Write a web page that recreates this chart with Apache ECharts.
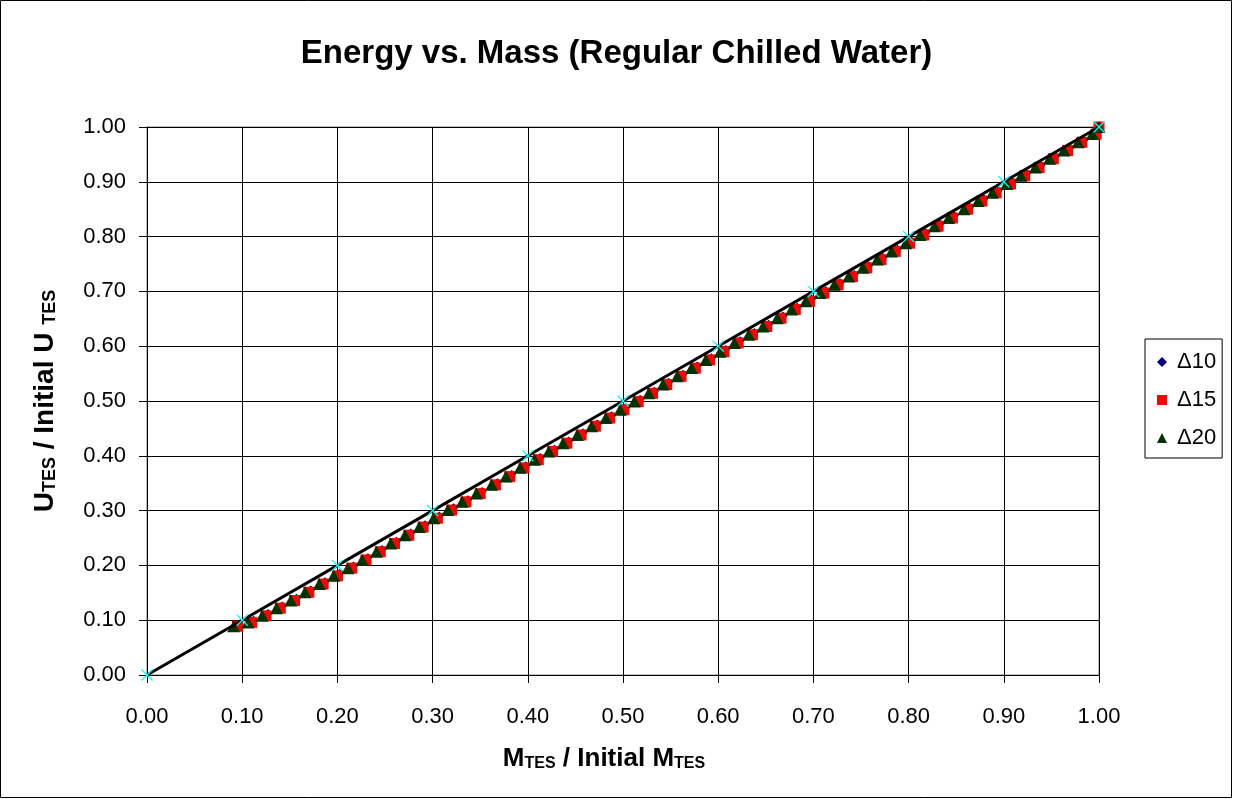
<!DOCTYPE html>
<html>
<head>
<meta charset="utf-8">
<title>Energy vs. Mass (Regular Chilled Water)</title>
<script src="https://cdn.jsdelivr.net/npm/echarts@6/dist/echarts.min.js"></script>
<style>
	html, body { margin: 0; padding: 0; background: #fff; }
	#mychart { width: 1233px; height: 799px; }
</style>
</head>
<body>
<div id="mychart"></div>
<script>
// values (fraction of initial mass / initial energy)
var mass10 = [0.097, 0.112, 0.127, 0.142, 0.157, 0.172, 0.187, 0.202, 0.217, 0.232, 0.247, 0.262, 0.277, 0.292, 0.307, 0.322, 0.337, 0.352, 0.368, 0.383, 0.398, 0.413, 0.428, 0.443, 0.458, 0.473, 0.488, 0.503, 0.518, 0.533, 0.548, 0.563, 0.578, 0.593, 0.608, 0.623, 0.638, 0.653, 0.668, 0.683, 0.698, 0.713, 0.728, 0.743, 0.758, 0.773, 0.788, 0.803, 0.818, 0.833, 0.848, 0.864, 0.879, 0.894, 0.909, 0.924, 0.939, 0.954, 0.969, 0.984, 0.999, 1.000];
var energy10 = [0.093, 0.100, 0.112, 0.126, 0.140, 0.155, 0.170, 0.185, 0.199, 0.214, 0.229, 0.244, 0.259, 0.274, 0.290, 0.305, 0.320, 0.335, 0.351, 0.366, 0.382, 0.397, 0.412, 0.427, 0.442, 0.458, 0.473, 0.488, 0.503, 0.518, 0.534, 0.549, 0.564, 0.579, 0.594, 0.610, 0.625, 0.640, 0.655, 0.671, 0.686, 0.701, 0.716, 0.731, 0.747, 0.762, 0.777, 0.792, 0.807, 0.823, 0.838, 0.854, 0.869, 0.884, 0.900, 0.915, 0.930, 0.946, 0.961, 0.976, 0.991, 1.000];

var mass15 = [0.095, 0.110, 0.125, 0.140, 0.155, 0.170, 0.185, 0.200, 0.215, 0.230, 0.245, 0.260, 0.275, 0.290, 0.305, 0.320, 0.335, 0.350, 0.366, 0.381, 0.396, 0.411, 0.426, 0.441, 0.456, 0.471, 0.486, 0.501, 0.516, 0.531, 0.546, 0.561, 0.576, 0.591, 0.606, 0.621, 0.636, 0.651, 0.666, 0.681, 0.696, 0.711, 0.726, 0.741, 0.756, 0.771, 0.786, 0.801, 0.816, 0.831, 0.846, 0.862, 0.877, 0.892, 0.907, 0.922, 0.937, 0.952, 0.967, 0.982, 0.997, 1.000];
var energy15 = [0.089, 0.096, 0.108, 0.122, 0.136, 0.151, 0.166, 0.181, 0.195, 0.210, 0.225, 0.240, 0.255, 0.270, 0.286, 0.301, 0.316, 0.331, 0.347, 0.362, 0.378, 0.393, 0.408, 0.423, 0.438, 0.454, 0.469, 0.484, 0.499, 0.514, 0.530, 0.545, 0.560, 0.575, 0.590, 0.606, 0.621, 0.636, 0.651, 0.667, 0.682, 0.697, 0.712, 0.727, 0.743, 0.758, 0.773, 0.788, 0.803, 0.819, 0.834, 0.850, 0.865, 0.880, 0.896, 0.911, 0.926, 0.942, 0.957, 0.972, 0.987, 1.000];

var mass20 = [0.091, 0.106, 0.121, 0.136, 0.151, 0.166, 0.181, 0.196, 0.211, 0.226, 0.241, 0.256, 0.271, 0.286, 0.301, 0.316, 0.331, 0.346, 0.362, 0.377, 0.392, 0.407, 0.422, 0.437, 0.452, 0.467, 0.482, 0.497, 0.512, 0.527, 0.542, 0.557, 0.572, 0.587, 0.602, 0.617, 0.632, 0.647, 0.662, 0.677, 0.692, 0.707, 0.722, 0.737, 0.752, 0.767, 0.782, 0.797, 0.812, 0.827, 0.842, 0.858, 0.873, 0.888, 0.903, 0.918, 0.933, 0.948, 0.963, 0.978, 0.993, 1.000];
var energy20 = [0.089, 0.096, 0.108, 0.122, 0.136, 0.151, 0.166, 0.181, 0.195, 0.210, 0.225, 0.240, 0.255, 0.270, 0.286, 0.301, 0.316, 0.331, 0.347, 0.362, 0.378, 0.393, 0.408, 0.423, 0.438, 0.454, 0.469, 0.484, 0.499, 0.514, 0.530, 0.545, 0.560, 0.575, 0.590, 0.606, 0.621, 0.636, 0.651, 0.667, 0.682, 0.697, 0.712, 0.727, 0.743, 0.758, 0.773, 0.788, 0.803, 0.819, 0.834, 0.850, 0.865, 0.880, 0.896, 0.911, 0.926, 0.942, 0.957, 0.972, 0.987, 1.000];

// the 1:1 line with its star markers
var refMass = [0.0, 0.1, 0.2, 0.3, 0.4, 0.5, 0.6, 0.7, 0.8, 0.9, 1.0];
var refEnergy = [0.0, 0.1, 0.2, 0.3, 0.4, 0.5, 0.6, 0.7, 0.8, 0.9, 1.0];

var seriesNames = ['\u039410', '\u039415', '\u039420'];
var tickStep = 0.1;

var FONT = "'Liberation Sans', Arial, sans-serif";
var STAR = 'path://M0,1.5 L1.5,0 L10,8.5 L18.5,0 L20,1.5 L11.5,10 L20,18.5 L18.5,20 L10,11.5 L1.5,20 L0,18.5 L8.5,10 Z';

var energyChart = {
	initial : function initial() {
		var myChart = echarts.init(document.getElementById('mychart'));
		myChart.setOption(this.buildOption());
	},

	pairs : function pairs(xs, ys) {
		var list = [];
		for (var i = 0; i < xs.length; i++) {
			list.push([xs[i], ys[i]]);
		}
		return list;
	},

	richTitle : function richTitle(big, small) {
		return {
			b : { fontFamily : FONT, fontSize : big, fontWeight : 'bold', color : '#000', verticalAlign : 'bottom', lineHeight : big + 4 },
			s : { fontFamily : FONT, fontSize : small, fontWeight : 'bold', color : '#000', verticalAlign : 'bottom', lineHeight : big + 4 }
		};
	},

	buildOption : function buildOption() {
		return {
			animation : false,
			backgroundColor : '#fff',
			title : {
				text : 'Energy vs. Mass (Regular Chilled Water)',
				left : 'center',
				top : 32,
				textStyle : { fontFamily : FONT, fontSize : 33, fontWeight : 'bold', color : '#000' }
			},
			grid : {
				left : 147,
				top : 127,
				width : 952,
				height : 548,
				show : true,
				borderColor : '#808080',
				borderWidth : 1,
				backgroundColor : 'transparent'
			},
			legend : {
				orient : 'vertical',
				left : 1145,
				top : 339,
				padding : [12, 6, 9, 12],
				borderColor : '#000',
				borderWidth : 1,
				itemWidth : 10,
				itemHeight : 10,
				itemGap : 16,
				textStyle : { fontFamily : FONT, fontSize : 22, color : '#000', lineHeight : 22, padding : [0, 0, 0, 5] },
				data : [
					{ name : seriesNames[0], icon : 'diamond' },
					{ name : seriesNames[1], icon : 'rect' },
					{ name : seriesNames[2], icon : 'triangle' }
				]
			},
			xAxis : {
				type : 'value',
				min : 0,
				max : 1,
				interval : tickStep,
				axisLine : { lineStyle : { color : '#000', width : 1 } },
				axisTick : { show : true, inside : false, length : 8, lineStyle : { color : '#000' } },
				axisLabel : {
					fontFamily : FONT, fontSize : 22, color : '#000', margin : 31,
					formatter : function(v) { return v.toFixed(2); }
				},
				splitLine : { show : true, lineStyle : { color : '#000', width : 1 } }
			},
			yAxis : {
				type : 'value',
				min : 0,
				max : 1,
				interval : tickStep,
				axisLine : { show : true, lineStyle : { color : '#000', width : 1 } },
				axisTick : { show : true, inside : false, length : 8, lineStyle : { color : '#000' } },
				axisLabel : {
					fontFamily : FONT, fontSize : 22, color : '#000', margin : 21,
					formatter : function(v) { return v.toFixed(2); }
				},
				splitLine : { show : true, lineStyle : { color : '#000', width : 1 } }
			},
			graphic : [
				{
					type : 'rect',
					shape : { x : 0.5, y : 0.5, width : 1231, height : 797 },
					style : { fill : 'none', stroke : '#000', lineWidth : 1 },
					silent : true
				},
				{
					type : 'text',
					x : 604,
					y : 757,
					style : {
						text : '{b|M}{s|TES}{b| / Initial M}{s|TES}',
						rich : this.richTitle(26, 16),
						align : 'center',
						verticalAlign : 'middle'
					}
				},
				{
					type : 'text',
					x : 43,
					y : 401,
					rotation : Math.PI / 2,
					style : {
						text : '{b|U}{s|TES}{b| / Initial U }{s|TES}',
						rich : this.richTitle(28, 18),
						align : 'center',
						verticalAlign : 'middle'
					}
				}
			],
			series : [
				{
					name : seriesNames[0],
					type : 'scatter',
					symbol : 'diamond',
					symbolSize : 9,
					itemStyle : { color : '#000080', opacity : 1 },
					data : this.pairs(mass10, energy10),
					z : 2
				},
				{
					name : seriesNames[1],
					type : 'scatter',
					symbol : 'rect',
					symbolSize : 11,
					itemStyle : { color : '#FF0000', opacity : 1 },
					data : this.pairs(mass15, energy15),
					z : 3
				},
				{
					name : seriesNames[2],
					type : 'scatter',
					symbol : 'triangle',
					symbolSize : [13, 12],
					itemStyle : { color : '#003300', opacity : 1 },
					data : this.pairs(mass20, energy20),
					z : 4
				},
				{
					name : 'ideal',
					type : 'line',
					symbol : STAR,
					symbolSize : 12,
					showAllSymbol : true,
					itemStyle : { color : '#00FFFF' },
					lineStyle : { color : '#000', width : 3 },
					data : this.pairs(refMass, refEnergy),
					z : 5
				}
			]
		};
	}
};

energyChart.initial();
</script>
</body>
</html>
